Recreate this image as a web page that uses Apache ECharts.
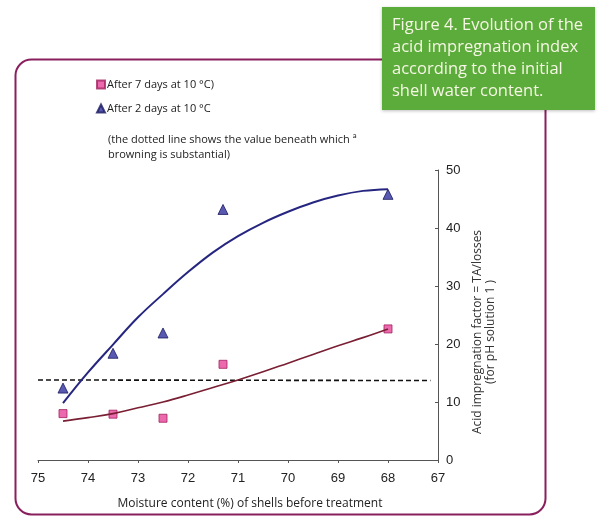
<!DOCTYPE html>
<html><head><meta charset="utf-8">
<script src="https://cdn.jsdelivr.net/npm/echarts@6/dist/echarts.min.js"></script>
<style>html,body{margin:0;padding:0;background:#fff}#c{width:599px;height:516px}</style>
</head><body><div id="c"></div>
<script>
// Shell moisture content (%) of each batch
const moisture = [74.5, 73.5, 72.5, 71.3, 68];
// Acid impregnation factor measured for each batch
const after7Days = [8.0, 7.9, 7.2, 16.5, 22.6];
const after2Days = [12.4, 18.4, 21.9, 43.2, 45.8];
// Fitted trend curves, sampled every half point of moisture
const trendMoisture = [74.5, 74, 73.5, 73, 72.5, 72, 71.5, 71, 70.5, 70, 69.5, 69, 68.5, 68];
const trend7Days = [6.7, 7.3, 8.0, 9.0, 10.0, 11.2, 12.5, 13.8, 15.2, 16.7, 18.2, 19.7, 21.1, 22.6];
const trend2Days = [9.8, 15.1, 19.9, 24.6, 28.6, 32.4, 35.8, 38.6, 40.9, 42.8, 44.4, 45.6, 46.4, 46.7];
// Browning threshold
const thresholdMoisture = [75, 67.15];
const thresholdValue = [13.8, 13.7];

const name7 = 'After 7 days at 10 °C)';
const name2 = 'After 2 days at 10 °C';

const pairs = (xs, ys) => xs.map((x, i) => [x, ys[i]]);
const axisFont = '"Liberation Sans", Arial, sans-serif';
const textFont = '"Open Sans", "DejaVu Sans", sans-serif';

const chart = echarts.init(document.getElementById('c'), null, {renderer: 'canvas'});
chart.setOption({
  backgroundColor: '#fff',
  animation: false,
  grid: {left: 38, right: 161, top: 170, bottom: 56},
  legend: {
    data: [
      {name: name7, icon: 'rect'},
      {name: name2, icon: 'triangle'}
    ],
    orient: 'vertical', left: 91, top: 74, itemGap: 13,
    itemWidth: 8, itemHeight: 8,
    textStyle: {fontFamily: textFont, fontSize: 11, color: '#222', padding: [0, 0, 0, -3]}
  },
  xAxis: {
    type: 'value', inverse: true, min: 67, max: 75, interval: 1,
    name: 'Moisture content (%) of shells before treatment',
    nameLocation: 'middle', nameGap: 38,
    nameTextStyle: {fontFamily: textFont, fontSize: 12, color: '#222', padding: [0, 0, 0, 24]},
    axisLine: {lineStyle: {color: '#555', width: 1}},
    axisTick: {show: true, length: 3, lineStyle: {color: '#555'}},
    axisLabel: {fontFamily: axisFont, fontSize: 13, color: '#222', margin: 12},
    splitLine: {show: false}
  },
  yAxis: {
    type: 'value', position: 'right', min: 0, max: 50, interval: 10,
    axisLine: {show: true, lineStyle: {color: '#555', width: 1}},
    axisTick: {show: true, inside: true, length: 3, lineStyle: {color: '#555'}},
    axisLabel: {fontFamily: axisFont, fontSize: 13, color: '#222', margin: 8},
    splitLine: {show: false}
  },
  series: [
    {
      type: 'line', data: pairs(thresholdMoisture, thresholdValue),
      symbol: 'none', silent: true,
      lineStyle: {color: '#111', width: 1.6, type: [5, 3]}
    },
    {
      type: 'line', data: pairs(trendMoisture, trend2Days),
      symbol: 'none', smooth: 0.4, silent: true,
      lineStyle: {color: '#262680', width: 2}
    },
    {
      type: 'line', data: pairs(trendMoisture, trend7Days),
      symbol: 'none', smooth: 0.4, silent: true,
      lineStyle: {color: '#7a1f33', width: 1.6}
    },
    {
      name: name7, type: 'scatter', data: pairs(moisture, after7Days),
      symbol: 'rect', symbolSize: 8,
      itemStyle: {color: '#e8449a', borderColor: '#a0205e', borderWidth: 1}
    },
    {
      name: name2, type: 'scatter', data: pairs(moisture, after2Days),
      symbol: 'triangle', symbolSize: 10,
      itemStyle: {color: '#2f2f9e', borderColor: '#1a1a60', borderWidth: 1}
    }
  ],
  graphic: [
    {
      type: 'rect', left: 13, top: 57, z: 0,
      shape: {width: 530, height: 455, r: 16},
      style: {fill: 'none', stroke: '#8a1f5e', lineWidth: 2}
    },
    {
      type: 'text', left: 108, top: 132,
      style: {
        text: '(the dotted line shows the value beneath which ª\nbrowning is substantial)',
        font: '11px ' + textFont, fill: '#222', lineHeight: 15
      }
    },
    {
      // vertical axis title, reading bottom to top
      type: 'text', x: 484, y: 332, rotation: Math.PI / 2,
      style: {
        text: 'Acid impregnation factor = TA/losses\n(for pH solution 1 )',
        font: '12px ' + textFont, fill: '#333', lineHeight: 13,
        align: 'center', verticalAlign: 'middle'
      }
    },
    {
      type: 'rect', left: 382, top: 7, z: 10,
      shape: {width: 213, height: 103},
      style: {fill: '#5cac3c', shadowBlur: 3, shadowColor: 'rgba(0,0,0,0.25)', shadowOffsetY: 1}
    },
    {
      type: 'text', left: 392, top: 14, z: 11,
      style: {
        text: 'Figure 4. Evolution of the\nacid impregnation index\naccording to the initial\nshell water content.',
        font: '16.5px ' + textFont, fill: '#f6f6e4', lineHeight: 22
      }
    }
  ]
});
</script>
</body></html>
